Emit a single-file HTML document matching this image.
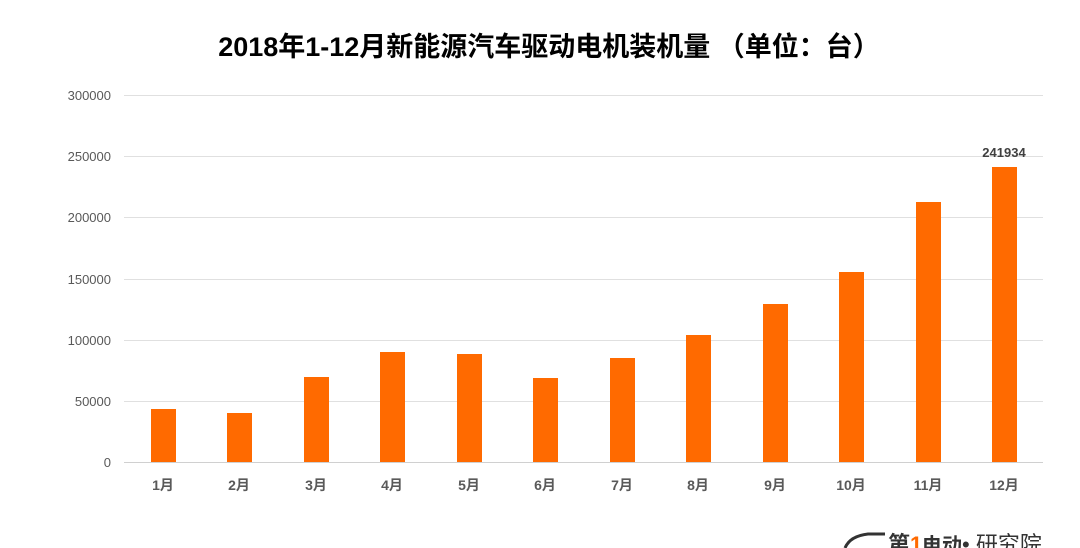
<!DOCTYPE html>
<html><head><meta charset="utf-8"><style>
html,body{margin:0;padding:0;background:#fff;}
svg{display:block;}
</style></head><body>
<svg width="1080" height="548" xmlns="http://www.w3.org/2000/svg" font-family="Liberation Sans, Noto Sans CJK SC, sans-serif">
<text x="549" y="56" text-anchor="middle" font-size="27" font-weight="bold" fill="#000" font-family="Liberation Sans, Noto Sans CJK SC, sans-serif">2018年1-12月新能源汽车驱动电机装机量 （单位：台）</text>
<g stroke="#e0e0e0" stroke-width="1">
<line x1="124" y1="95.5" x2="1043" y2="95.5"/>
<line x1="124" y1="156.5" x2="1043" y2="156.5"/>
<line x1="124" y1="217.5" x2="1043" y2="217.5"/>
<line x1="124" y1="279.5" x2="1043" y2="279.5"/>
<line x1="124" y1="340.5" x2="1043" y2="340.5"/>
<line x1="124" y1="401.5" x2="1043" y2="401.5"/>
</g>
<line x1="124" y1="462.5" x2="1043" y2="462.5" stroke="#d0d0d0"/>
<g font-size="13" fill="#595959" text-anchor="end">
<text x="111" y="100">300000</text>
<text x="111" y="161">250000</text>
<text x="111" y="222">200000</text>
<text x="111" y="284">150000</text>
<text x="111" y="345">100000</text>
<text x="111" y="406">50000</text>
<text x="111" y="467">0</text>
</g>
<g fill="#ff6a00">
<rect x="151" y="409" width="25" height="53"/>
<rect x="227" y="413" width="25" height="49"/>
<rect x="304" y="377" width="25" height="85"/>
<rect x="380" y="352" width="25" height="110"/>
<rect x="457" y="354" width="25" height="108"/>
<rect x="533" y="378" width="25" height="84"/>
<rect x="610" y="358" width="25" height="104"/>
<rect x="686" y="335" width="25" height="127"/>
<rect x="763" y="304" width="25" height="158"/>
<rect x="839" y="272" width="25" height="190"/>
<rect x="916" y="202" width="25" height="260"/>
<rect x="992" y="167" width="25" height="295"/>
</g>
<text x="1004" y="157" text-anchor="middle" font-size="13" font-weight="bold" fill="#404040">241934</text>
<g font-size="14" font-weight="bold" fill="#595959" text-anchor="middle">
<text x="163" y="490">1月</text><text x="239" y="490">2月</text><text x="316" y="490">3月</text>
<text x="392" y="490">4月</text><text x="469" y="490">5月</text><text x="545" y="490">6月</text>
<text x="622" y="490">7月</text><text x="698" y="490">8月</text><text x="775" y="490">9月</text>
<text x="851" y="490">10月</text><text x="928" y="490">11月</text><text x="1004" y="490">12月</text>
</g>
<g>
<path d="M845 548 Q850 536 868 534 L885 534" stroke="#333" stroke-width="3" fill="none"/>
<text x="888" y="552" font-size="22" font-weight="bold" fill="#333">第</text>
<text x="910" y="552" font-size="22" font-weight="bold" fill="#ff6a00">1</text>
<text x="922" y="552" font-size="20" font-weight="bold" fill="#333">电动</text>
<text x="962" y="552" font-size="22" fill="#333">• 研究院</text>
</g>
</svg>
</body></html>
